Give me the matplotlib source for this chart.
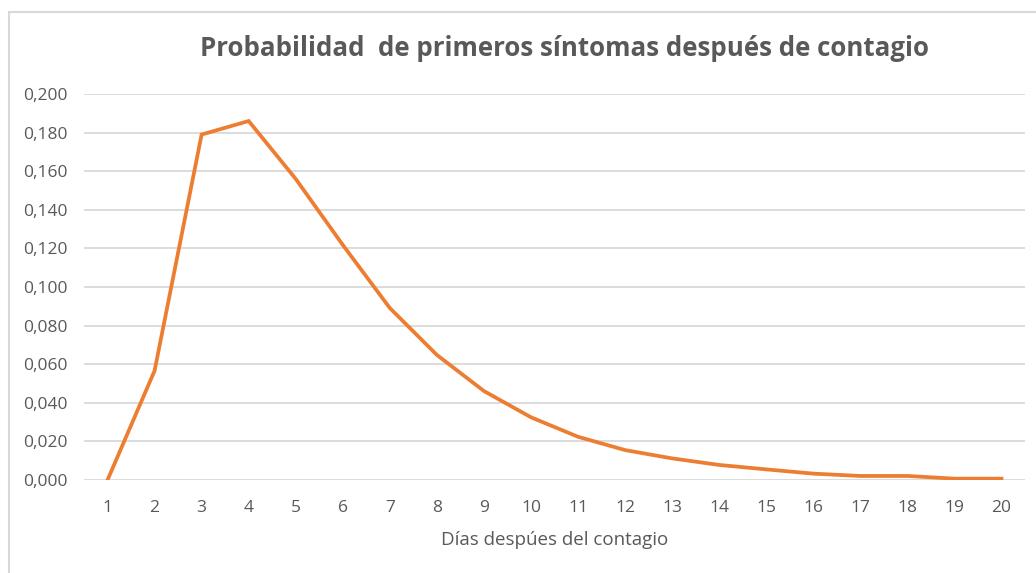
import numpy as np
import matplotlib
matplotlib.use("Agg")
import matplotlib.pyplot as plt
from matplotlib.ticker import FuncFormatter, MultipleLocator
from matplotlib.patches import Rectangle

# Data
dias = list(range(1, 21))
probabilidad = [0.0, 0.0566, 0.179, 0.186, 0.156, 0.1218, 0.0891, 0.0648,
                0.0461, 0.0325, 0.0224, 0.0155, 0.0112, 0.0078, 0.0055,
                0.0033, 0.0021, 0.0021, 0.0007, 0.0007]

titulo = "Probabilidad  de primeros síntomas después de contagio"
etiqueta_x = "Días despúes del contagio"

gris_texto = "#595959"
gris_rejilla = "#D9D9D9"
naranja = "#ED7D31"

plt.rcParams['font.family'] = ['Open Sans', 'DejaVu Sans']

fig = plt.figure(figsize=(10.36, 5.73), dpi=100)
ax = fig.add_axes([84/1036, 93/573, 941/1036, 386/573])

# chart border (top and left visible in reference)
fig.patches.append(Rectangle((9/1036, -0.1), 1.2, (573-12)/573 + 0.1,
                             transform=fig.transFigure, fill=False,
                             edgecolor=gris_rejilla, linewidth=1.5))

ax.plot(dias, probabilidad, color=naranja, linewidth=2.7,
        solid_joinstyle='miter', zorder=3)

ax.set_xlim(0.5, 20.5)
ax.set_ylim(0, 0.2)
ax.set_xticks(dias)
ax.yaxis.set_major_locator(MultipleLocator(0.02))
ax.yaxis.set_major_formatter(FuncFormatter(lambda v, p: f"{v:.3f}".replace(".", ",")))

ax.grid(axis='y', color=gris_rejilla, linewidth=1.3)
ax.set_axisbelow(True)
for s in ax.spines.values():
    s.set_visible(False)
ax.tick_params(axis='both', length=0, labelsize=12.5, labelcolor=gris_texto)
ax.tick_params(axis='x', pad=14.5)
ax.tick_params(axis='y', pad=12)

ax.set_xlabel(etiqueta_x, fontsize=13.5, color=gris_texto, labelpad=11)
fig.text(565/1036, 1 - 48/573, titulo, ha='center', va='center',
         fontsize=18.6, fontweight='bold', color=gris_texto)

fig.savefig("out.png", dpi=100)
